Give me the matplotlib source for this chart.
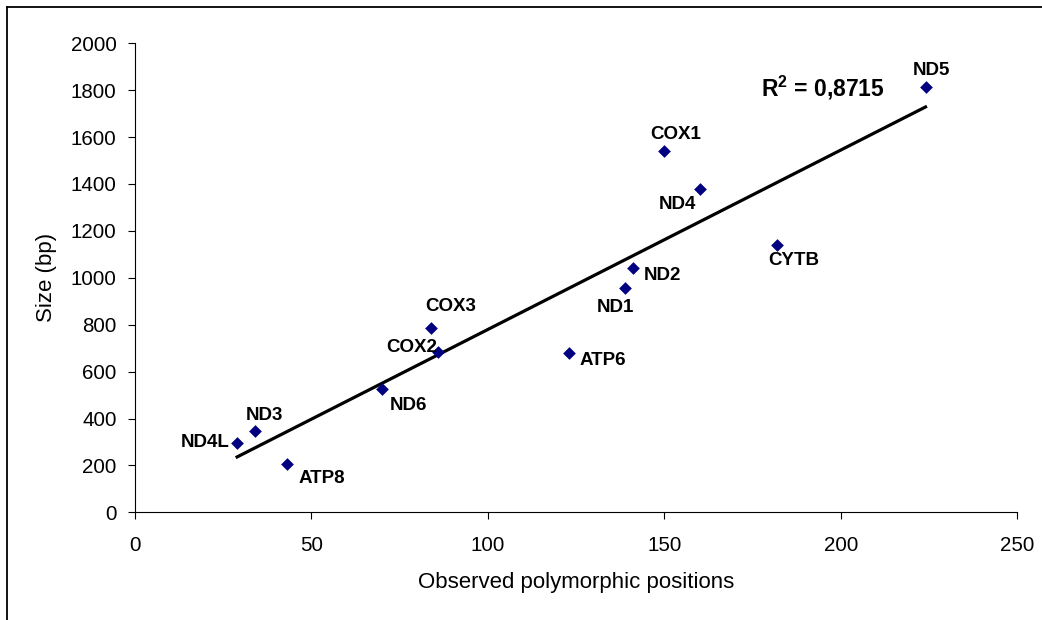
import matplotlib.pyplot as plt
from matplotlib.lines import Line2D
import numpy as np

plt.rcParams['font.family'] = ['Liberation Sans', 'DejaVu Sans']
plt.rcParams['mathtext.fontset'] = 'custom'
plt.rcParams['mathtext.rm'] = 'Liberation Sans'
plt.rcParams['mathtext.bf'] = 'Liberation Sans:bold'

genes = ['ND4L', 'ND3', 'ATP8', 'ND6', 'COX3', 'COX2', 'ATP6',
         'ND1', 'ND2', 'COX1', 'ND4', 'CYTB', 'ND5']
polymorphic = [29, 34, 43, 70, 84, 86, 123, 139, 141, 150, 160, 182, 224]
size_bp = [297, 346, 207, 525, 784, 684, 681, 956, 1042, 1542, 1378, 1141, 1812]
r2_label = r'R$^\mathbf{2}$ = 0,8715'

# label offsets in pixels (dx, dy, ha)
label_pos = {
    'ND4L': (-7, 0, 'right'), 'ND3': (10, 16, 'center'), 'ATP8': (12, -15, 'left'),
    'ND6': (8, -16, 'left'), 'COX3': (19, 22, 'center'), 'COX2': (-1, 4, 'right'),
    'ATP6': (11, -8, 'left'), 'ND1': (-10, -19, 'center'), 'ND2': (11, -8, 'left'),
    'COX1': (11, 16, 'center'), 'ND4': (-3, -15, 'right'), 'CYTB': (17, -16, 'center'),
    'ND5': (6, 17, 'center'),
}

fig = plt.figure(figsize=(10.42, 6.20), dpi=100)
ax = fig.add_axes([0.1293, 0.1737, 0.9763 - 0.1293, 0.9302 - 0.1737])

ax.scatter(polymorphic, size_bp, marker='D', s=42, color='#000080', zorder=3, linewidths=0)

# linear trend line over the data range
x = np.array(polymorphic, dtype=float)
y = np.array(size_bp, dtype=float)
k, b = np.polyfit(x, y, 1)
xs = np.array([x.min(), x.max()])
ax.plot(xs, k * xs + b, color='black', linewidth=2.3, zorder=2)

for g, px, py in zip(genes, polymorphic, size_bp):
    dx, dy, ha = label_pos[g]
    ax.annotate(g, (px, py), xytext=(dx * 0.72, dy * 0.72), textcoords='offset points',
                ha=ha, va='center', fontsize=13.5, fontweight='bold', zorder=4)

ax.text(0.780, 0.904, r2_label, transform=ax.transAxes, fontsize=16.5, fontweight='bold',
        ha='center', va='center')

ax.set_xlim(0, 250)
ax.set_ylim(0, 2000)
ax.set_xticks(np.arange(0, 251, 50))
ax.set_yticks(np.arange(0, 2001, 200))
ax.tick_params(direction='out', length=5, width=0.8, labelsize=14.8, pad=8)
ax.tick_params(axis='x', pad=12)
for side in ['top', 'right']:
    ax.spines[side].set_visible(False)
for side in ['left', 'bottom']:
    ax.spines[side].set_linewidth(0.8)

ax.set_xlabel('Observed polymorphic positions', fontsize=16, labelpad=12)
ax.set_ylabel('Size (bp)', fontsize=16, labelpad=10)

# chart-area border (left and top edges)
fig.add_artist(Line2D([7 / 1042, 7 / 1042], [0, 1 - 7 / 620], color='black', linewidth=1.3))
fig.add_artist(Line2D([7 / 1042, 1], [1 - 7 / 620, 1 - 7 / 620], color='black', linewidth=1.3))

fig.savefig('out.png', dpi=100)
